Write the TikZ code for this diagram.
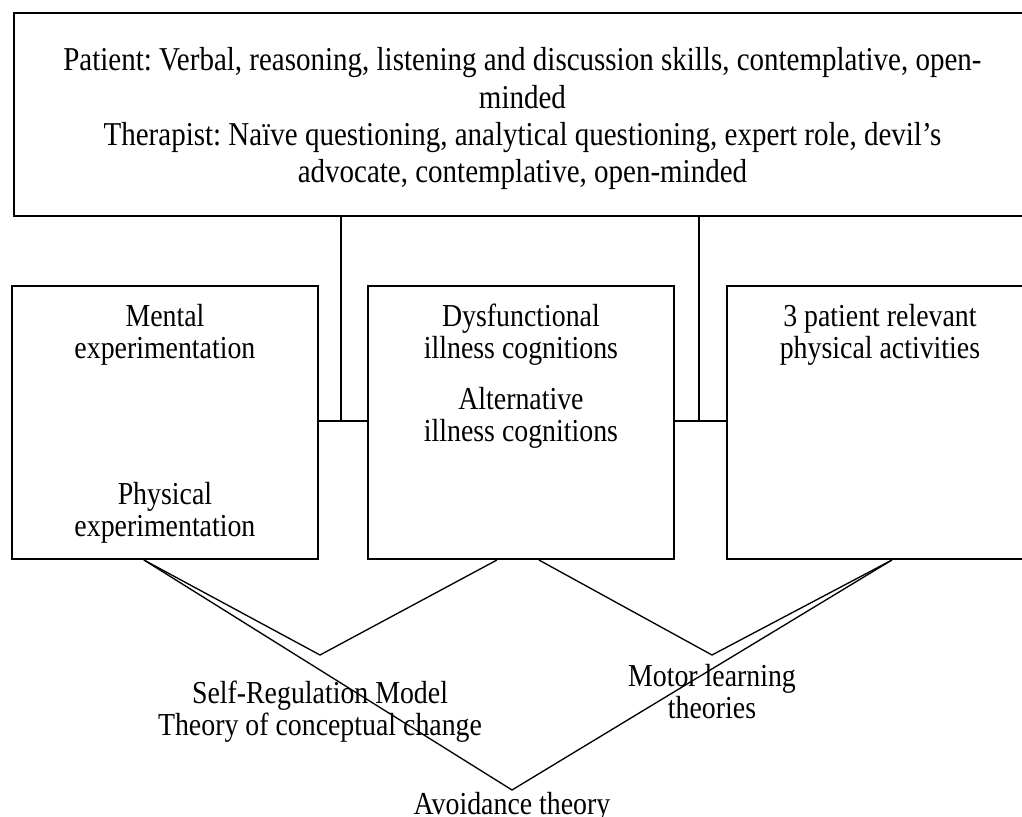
\documentclass[tikz,border=0pt]{standalone}
\usepackage{fontspec}
\setmainfont[FakeStretch=0.87]{Liberation Serif}
\usetikzlibrary{positioning}

\begin{document}
\frenchspacing
\begin{tikzpicture}[
				x=0.75pt, y=-0.75pt,
				node distance=14pt,
				block/.style={draw, line width=1.4pt, minimum width=229.5pt, minimum height=204.75pt, anchor=south west},
				txt/.style={align=center, inner sep=0pt, font=\fontsize{24}{24}\selectfont},
				link/.style={line width=1pt}
			]
				\clip (0,0) rectangle (1022,817);
				\node[block, anchor=north west, minimum width=762.75pt, minimum height=152.25pt] (roles) at (13,12) {};
				\node[txt, font=\fontsize{25}{28}\selectfont] (rolestext) at ([yshift=-3.4pt]roles.center) {Patient: Verbal, reasoning, listening and discussion skills, contemplative, open-\\minded\\Therapist: Naïve questioning, analytical questioning, expert role, devil’s\\advocate, contemplative, open-minded};

				\node[block] (mentalbox) at (11,560) {};
				\node[block] (cognbox) at (367,560) {};
				\node[block] (actbox) at (726,560) {};
				\node[txt, below=of mentalbox.north] (mental) {Mental\\experimentation};
				\node[txt, above=12pt of mentalbox.south] (physical) {Physical\\experimentation};
				\node[txt, below=of cognbox.north] (dysf) {Dysfunctional\\illness cognitions};
				\node[txt, below=16pt of dysf] (altern) {Alternative\\illness cognitions};
				\node[txt, below=of actbox.north] (activities) {3 patient relevant\\physical activities};

				\coordinate (j1) at (341,421);
				\coordinate (j2) at (699,421);
				\draw[link] (roles.south -| j1) -- (j1);
				\draw[link] (mentalbox.east |- j1) -- (cognbox.west |- j1);
				\draw[link] (roles.south -| j2) -- (j2);
				\draw[link] (cognbox.east |- j2) -- (actbox.west |- j2);

				\coordinate (srm) at (320,655);
				\coordinate (motor) at (712,655);
				\coordinate (avoid) at (512,790);
				\draw[link] ([xshift=-15.75pt]mentalbox.south) -- (srm) -- ([xshift=-18pt]cognbox.south);
				\draw[link] ([xshift=13.5pt]cognbox.south) -- (motor) -- ([xshift=9pt]actbox.south);
				\draw[link] ([xshift=-15.75pt]mentalbox.south) -- (avoid) -- ([xshift=9pt]actbox.south);
				\node[txt, below=19pt of srm] (srmtext) {Self-Regulation Model\\Theory of conceptual change};
				\node[txt, below=7pt of motor] (motortext) {Motor learning\\theories};
				\node[txt, below=1.5pt of avoid] (avoidtext) {Avoidance theory};
			\end{tikzpicture}
\end{document}
